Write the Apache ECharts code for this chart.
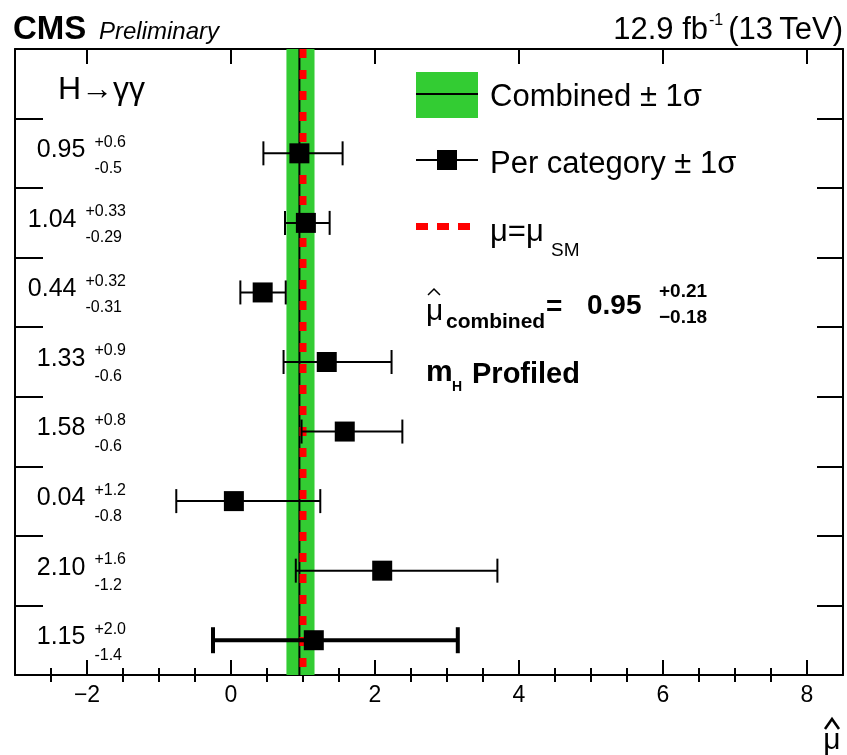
<!DOCTYPE html>
<html>
<head>
<meta charset="utf-8">
<script src="https://cdn.jsdelivr.net/npm/echarts@6/dist/echarts.min.js"></script>
<style>
  html, body { margin: 0; padding: 0; background: #fff; }
  #main { width: 847px; height: 755px; }
</style>
</head>
<body>
<div id="main"></div>
<script>
// Signal strength per event category (top to bottom), with asymmetric 1-sigma errors
const categoryValues = [0.95, 1.04, 0.44, 1.33, 1.58, 0.04, 2.10, 1.15];
const errorsUp       = [0.6, 0.33, 0.32, 0.9, 0.8, 1.2, 1.6, 2.0];
const errorsDown     = [0.5, 0.29, 0.31, 0.6, 0.6, 0.8, 1.2, 1.4];
const valueLabels    = ['0.95', '1.04', '0.44', '1.33', '1.58', '0.04', '2.10', '1.15'];
const upLabels       = ['+0.6', '+0.33', '+0.32', '+0.9', '+0.8', '+1.2', '+1.6', '+2.0'];
const downLabels     = ['-0.5', '-0.29', '-0.31', '-0.6', '-0.6', '-0.8', '-1.2', '-1.4'];

// Combined fit and Standard Model expectation
const combinedValue = 0.95;
const combinedUp = 0.21;
const combinedDown = 0.18;
const smValue = 1.0;

// Axis ticks
const majorTicks = [-2, 0, 2, 4, 6, 8];
const minorTicks = [-2.5, -1.5, -1, -0.5, 0.5, 1, 1.5, 2.5, 3, 3.5, 4.5, 5, 5.5, 6.5, 7, 7.5];
const rowTicks = [1, 2, 3, 4, 5, 6, 7, 8];

const X_MIN = -3, X_MAX = 8.5, Y_MIN = 0, Y_MAX = 9;
const FONT = '"Liberation Sans", Arial, Helvetica, sans-serif';
const nRows = categoryValues.length;

// Row centres, first category at the top
const rowY = categoryValues.map((v, i) => nRows - i - 0.5);

const errorData = categoryValues.map((v, i) => [v, v - errorsDown[i], v + errorsUp[i], rowY[i]]);

const chart = echarts.init(document.getElementById('main'), null, { renderer: 'canvas' });

const frameLine = { show: true, onZero: false, lineStyle: { color: '#000', width: 2 } };
const tickStyle = { color: '#000', width: 2 };

function xAxisDef(position, ticks, length, withLabels, withLine) {
  return {
    type: 'value', min: X_MIN, max: X_MAX, position: position,
    axisLine: withLine ? frameLine : { show: false },
    splitLine: { show: false },
    axisTick: { show: true, inside: true, length: length, lineStyle: tickStyle, customValues: ticks },
    axisLabel: withLabels ? {
      show: true, customValues: ticks, color: '#000', fontSize: 23, fontFamily: FONT, margin: 9,
      formatter: v => (v < 0 ? '\u2212' + Math.abs(v) : String(v))
    } : { show: false }
  };
}

function yAxisDef(position, length) {
  return {
    type: 'value', min: Y_MIN, max: Y_MAX, position: position,
    axisLine: frameLine,
    splitLine: { show: false },
    axisTick: { show: true, inside: true, length: length, lineStyle: tickStyle, customValues: rowTicks },
    axisLabel: { show: false }
  };
}

const option = {
  backgroundColor: '#fff',
  animation: false,
  grid: { left: 15, right: 4, top: 49, bottom: 80, containLabel: false },
  xAxis: [
    xAxisDef('bottom', majorTicks, 15, true, true),
    xAxisDef('bottom', minorTicks, 7, false, false),
    xAxisDef('top', majorTicks, 15, false, true),
    xAxisDef('top', minorTicks, 7, false, false)
  ],
  yAxis: [
    yAxisDef('left', 28),
    yAxisDef('right', 26)
  ],
  series: [
    {
      // combined +/- 1 sigma band
      type: 'custom', xAxisIndex: 0, yAxisIndex: 0, silent: true, z: 1,
      data: [[combinedValue - combinedDown, combinedValue + combinedUp]],
      renderItem: (params, api) => {
        const a = api.coord([api.value(0), Y_MAX]);
        const b = api.coord([api.value(1), Y_MIN]);
        return { type: 'rect', shape: { x: a[0], y: a[1], width: b[0] - a[0], height: b[1] - a[1] },
                 style: { fill: '#33cc33' } };
      }
    },
    {
      // combined central value
      type: 'custom', xAxisIndex: 0, yAxisIndex: 0, silent: true, z: 2,
      data: [[combinedValue]],
      renderItem: (params, api) => {
        const a = api.coord([api.value(0), Y_MAX]);
        const b = api.coord([api.value(0), Y_MIN]);
        return { type: 'line', shape: { x1: a[0], y1: a[1], x2: b[0], y2: b[1] },
                 style: { stroke: '#000', lineWidth: 2 } };
      }
    },
    {
      // Standard Model expectation
      type: 'custom', xAxisIndex: 0, yAxisIndex: 0, silent: true, z: 3,
      data: [[smValue]],
      renderItem: (params, api) => {
        const a = api.coord([api.value(0), Y_MAX]);
        const b = api.coord([api.value(0), Y_MIN]);
        return { type: 'line', shape: { x1: a[0], y1: a[1], x2: b[0], y2: b[1] },
                 style: { stroke: '#ff0000', lineWidth: 7, lineDash: [9, 12] } };
      }
    },
    {
      // per-category measurements with error bars
      type: 'custom', xAxisIndex: 0, yAxisIndex: 0, silent: true, z: 4,
      data: errorData,
      renderItem: (params, api) => {
        const y = api.value(3);
        const c = api.coord([api.value(0), y]);
        const lo = api.coord([api.value(1), y]);
        const hi = api.coord([api.value(2), y]);
        const heavy = params.dataIndex === nRows - 1;
        const lw = heavy ? 4 : 2;
        const cap = heavy ? 13 : 12;
        const s = 20;
        const st = { stroke: '#000', lineWidth: lw };
        return {
          type: 'group',
          children: [
            { type: 'line', shape: { x1: lo[0], y1: lo[1], x2: hi[0], y2: hi[1] }, style: st },
            { type: 'line', shape: { x1: lo[0], y1: lo[1] - cap, x2: lo[0], y2: lo[1] + cap }, style: st },
            { type: 'line', shape: { x1: hi[0], y1: hi[1] - cap, x2: hi[0], y2: hi[1] + cap }, style: st },
            { type: 'rect', shape: { x: c[0] - s / 2, y: c[1] - s / 2, width: s, height: s }, style: { fill: '#000' } }
          ]
        };
      }
    }
  ]
};

chart.setOption(option);

// ---- text annotations ----
const measureCtx = document.createElement('canvas').getContext('2d');
function textWidth(str, size, weight) {
  measureCtx.font = (weight || 'normal') + ' ' + size + 'px ' + FONT;
  return measureCtx.measureText(str).width;
}

function txt(x, y, text, size, opts) {
  opts = opts || {};
  return {
    type: 'text', x: x, y: y, z: 100, silent: true,
    style: {
      text: text, fill: '#000', fontSize: size, fontFamily: FONT,
      fontWeight: opts.weight || 'normal', fontStyle: opts.style || 'normal',
      align: opts.align || 'left', verticalAlign: 'middle'
    }
  };
}

const graphics = [];

// Header
graphics.push(txt(13, 30, 'CMS', 33, { weight: 'bold' }));
graphics.push(txt(99, 32, 'Preliminary', 24, { style: 'italic' }));
(function () {
  const right = 843;
  const tail = '(13\u2009TeV)';
  const wTail = textWidth(tail, 31);
  const wSup = textWidth('-1', 16);
  graphics.push(txt(right, 30, tail, 31, { align: 'right' }));
  graphics.push(txt(right - wTail - 5, 21, '-1', 16, { align: 'right' }));
  graphics.push(txt(right - wTail - wSup - 6, 30, '12.9 fb', 31, { align: 'right' }));
})();

// Category labels on the left
const groupRight = 126;
const supSize = 16, valSize = 25;
const yTop = chart.convertToPixel({ yAxisIndex: 0 }, Y_MAX - 0.5);
graphics.push(txt(58, yTop + 6, 'H\u2192\u03b3\u03b3', 32));
rowY.forEach((yv, i) => {
  const py = chart.convertToPixel({ yAxisIndex: 0 }, yv);
  const w = Math.max(textWidth(upLabels[i], supSize), textWidth(downLabels[i], supSize));
  const supX = groupRight - w;
  graphics.push(txt(supX - 9, py - 3, valueLabels[i], valSize, { align: 'right' }));
  graphics.push(txt(supX, py - 11, upLabels[i], supSize));
  graphics.push(txt(supX, py + 15, downLabels[i], supSize));
});

// Legend
graphics.push({ type: 'rect', z: 100, silent: true, shape: { x: 416, y: 72, width: 62, height: 46 }, style: { fill: '#33cc33' } });
graphics.push({ type: 'line', z: 101, silent: true, shape: { x1: 416, y1: 94, x2: 478, y2: 94 }, style: { stroke: '#000', lineWidth: 2 } });
graphics.push(txt(490, 97, 'Combined \u00b1 1\u03c3', 31));

graphics.push({ type: 'line', z: 100, silent: true, shape: { x1: 416, y1: 160, x2: 478, y2: 160 }, style: { stroke: '#000', lineWidth: 2 } });
graphics.push({ type: 'rect', z: 101, silent: true, shape: { x: 437, y: 150, width: 20, height: 20 }, style: { fill: '#000' } });
graphics.push(txt(490, 164, 'Per category \u00b1 1\u03c3', 31));

[416, 437, 458].forEach(x => {
  graphics.push({ type: 'rect', z: 100, silent: true, shape: { x: x, y: 223, width: 12, height: 7 }, style: { fill: '#ff0000' } });
});
graphics.push(txt(490, 232, '\u03bc=\u03bc', 31));
graphics.push(txt(551, 251, 'SM', 19));

// Combined result
graphics.push(txt(426, 312, '\u03bc', 30));
graphics.push({ type: 'polyline', z: 100, silent: true, shape: { points: [[428, 295], [434, 289], [440, 295]] }, style: { stroke: '#000', lineWidth: 1.5, fill: null } });
graphics.push(txt(446, 322, 'combined', 21, { weight: 'bold' }));
graphics.push(txt(546, 307, '=', 28, { weight: 'bold' }));
graphics.push(txt(587, 306, '0.95', 28, { weight: 'bold' }));
graphics.push(txt(659, 292, '+0.21', 19, { weight: 'bold' }));
graphics.push(txt(659, 318, '\u22120.18', 19, { weight: 'bold' }));

graphics.push(txt(426, 373, 'm', 30, { weight: 'bold' }));
graphics.push(txt(452, 387, 'H', 14, { weight: 'bold' }));
graphics.push(txt(472, 375, 'Profiled', 29, { weight: 'bold' }));

// Axis title (mu hat)
graphics.push(txt(832, 741, '\u03bc', 30, { align: 'center' }));
graphics.push({ type: 'polyline', z: 100, silent: true, shape: { points: [[825, 729], [832, 719], [839, 729]] }, style: { stroke: '#000', lineWidth: 2.5, fill: null } });

chart.setOption({ graphic: graphics });
</script>
</body>
</html>
